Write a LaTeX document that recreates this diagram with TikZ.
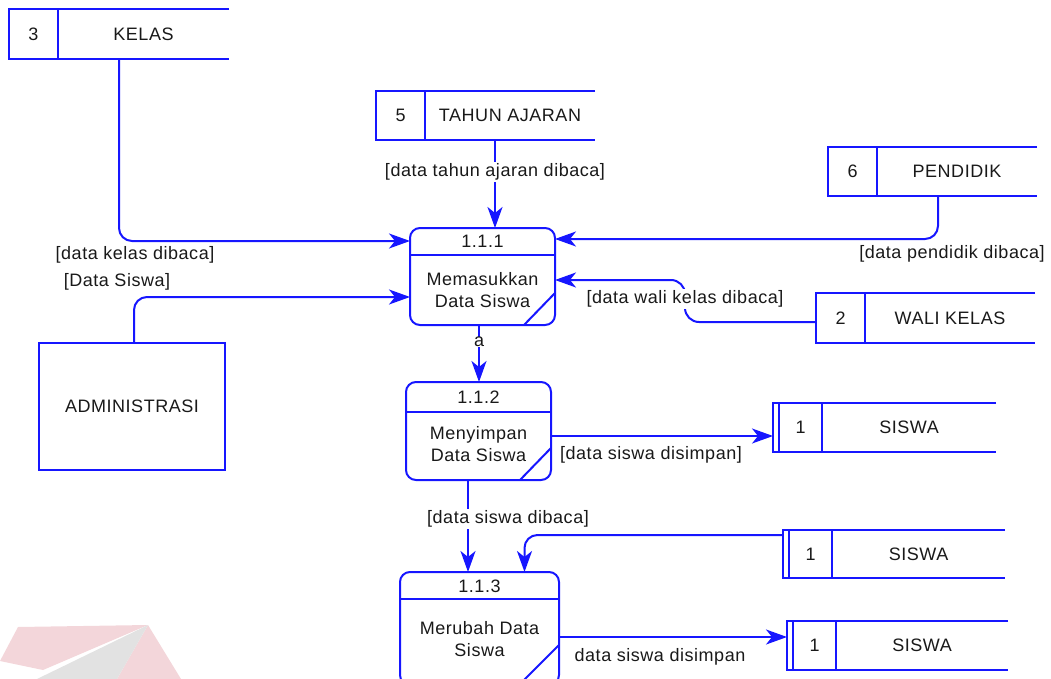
\documentclass[tikz,border=0pt]{standalone}
\usepackage{fontspec}
\setmainfont{Liberation Sans}[LetterSpace=3]
\usetikzlibrary{arrows.meta,calc}

\definecolor{dfdblue}{RGB}{22,22,255}
\definecolor{dfdtext}{RGB}{25,25,25}
\definecolor{wmpink}{RGB}{243,214,218}
\definecolor{wmgray}{RGB}{226,226,226}

% data store: open-ended box with a number cell
% #1 name, #2 x, #3 y (top left), #4 width, #5 height, #6 number, #7 title
\newcommand{\dfdstore}[7]{%
  \node[store, minimum width=#4pt, minimum height=#5pt] (#1) at (#2,#3) {};
  \draw[line] (#1.north east) -- (#1.north west) -- (#1.south west) -- (#1.south east);
  \draw[line] ([xshift=49pt]#1.north west) -- ([xshift=49pt]#1.south west);
  \node (#1-no) at ([xshift=24.5pt]#1.west) {#6};
  \node (#1-name) at ($([xshift=49pt]#1.west)!0.5!(#1.east)$) {#7};
}
% the same store drawn with a doubled left edge
\newcommand{\dfdstoreII}[7]{%
  \node[store, minimum width=#4pt, minimum height=#5pt] (#1) at (#2,#3) {};
  \draw[line] (#1.north east) -- (#1.north west) -- (#1.south west) -- (#1.south east);
  \draw[line, line width=1.3pt] ([xshift=6pt]#1.north west) -- ([xshift=6pt]#1.south west);
  \draw[line] ([xshift=49pt]#1.north west) -- ([xshift=49pt]#1.south west);
  \node (#1-no) at ([xshift=27.5pt]#1.west) {#6};
  \node (#1-name) at ($([xshift=49pt]#1.west)!0.5!(#1.east)$) {#7};
}

\begin{document}
\begin{tikzpicture}[x=1pt,y=-1pt,
  every node/.style={text=dfdtext, font=\fontsize{18}{22}\selectfont},
  line/.style={draw=dfdblue, line width=2pt},
  flow/.style={line, -{Stealth[length=21pt,width=15pt,inset=6pt]}},
  proc/.style={line, rounded corners=10pt, anchor=north west, inner sep=0pt, outer sep=0pt},
  store/.style={anchor=north west, inner sep=0pt, outer sep=0pt},
  lbl/.style={inner sep=1.5pt},
  mask/.style={lbl, fill=white},
]
\useasboundingbox (0,0) rectangle (1051,679);

% faint logo in the lower left corner
\fill[wmpink] (18,627) -- (148,625) -- (43,670) -- (0,661) -- cycle;
\fill[wmpink] (148,625) -- (181,679) -- (117,679) -- cycle;
\fill[wmgray] (148,625) -- (117,679) -- (37,679) -- cycle;

% data stores
\dfdstore{kelas}{9}{9}{220}{50}{3}{KELAS}
\dfdstore{tahun}{376}{91}{219}{49}{5}{TAHUN AJARAN}
\dfdstore{pendidik}{828}{147}{209}{49}{6}{PENDIDIK}
\dfdstore{wali}{816}{293}{219}{50}{2}{WALI KELAS}
\dfdstoreII{siswaA}{773}{403}{223}{49}{1}{SISWA}
\dfdstoreII{siswaB}{783}{530}{222}{48}{1}{SISWA}
\dfdstoreII{siswaC}{787}{621}{221}{49}{1}{SISWA}

% external entity
\node[line, anchor=north west, minimum width=186pt, minimum height=127pt,
      inner sep=0pt, outer sep=0pt] (admin) at (39,343) {ADMINISTRASI};

% processes
\node[proc, minimum width=145pt, minimum height=97pt] (p1) at (410,228) {};
\draw[line] ([yshift=-27pt]p1.north west) -- ([yshift=-27pt]p1.north east);
\draw[line] ([xshift=-31pt]p1.south east) -- ([yshift=32pt]p1.south east);
\node (p1-id) at ([yshift=-13.5pt]p1.north) {1.1.1};
\node[align=center] (p1-txt) at ([yshift=-62pt]p1.north) {Memasukkan\\Data Siswa};

\node[proc, minimum width=145pt, minimum height=98pt] (p2) at (406,382) {};
\draw[line] ([yshift=-30pt]p2.north west) -- ([yshift=-30pt]p2.north east);
\draw[line] ([xshift=-31pt]p2.south east) -- ([yshift=32pt]p2.south east);
\node (p2-id) at ([yshift=-15.5pt]p2.north) {1.1.2};
\node[align=center] (p2-txt) at ([yshift=-62pt]p2.north) {Menyimpan\\Data Siswa};

\node[proc, minimum width=159pt, minimum height=113pt] (p3) at (400,572) {};
\draw[line] ([yshift=-27pt]p3.north west) -- ([yshift=-27pt]p3.north east);
\draw[line] ([xshift=-40pt]p3.south east) -- ([yshift=40pt]p3.south east);
\node (p3-id) at ([yshift=-14.5pt]p3.north) {1.1.3};
\node[align=center] (p3-txt) at ([yshift=-67pt]p3.north) {Merubah Data\\Siswa};

% flows into 1.1.1
\draw[flow, rounded corners=13pt] ([xshift=110pt]kelas.south west) |- ([yshift=-13pt]p1.north west);
\node[lbl] (l-kelas) at (135,255) {[data kelas dibaca]};

\draw[flow] ([xshift=119pt]tahun.south west) -- ([xshift=119pt]tahun.south west |- p1.north);
\node[mask] (l-tahun) at (495,172) {[data tahun ajaran dibaca]};

\draw[flow, rounded corners=13pt] ([xshift=110pt]pendidik.south west) |- ([yshift=-11pt]p1.north east);
\node[lbl] (l-pendidik) at (952,254) {[data pendidik dibaca]};

\coordinate (wali-bend) at (685,280);
\draw[flow, rounded corners=14pt] ([yshift=-29pt]wali.north west) -| (wali-bend) -- ([yshift=-52pt]p1.north east);
\node[mask] (l-wali) at (685,299) {[data wali kelas dibaca]};

\draw[flow, rounded corners=13pt] ([xshift=95pt]admin.north west) |- ([yshift=-69pt]p1.north west);
\node[lbl] (l-admin) at (117,282) {[Data Siswa]};

% 1.1.1 to 1.1.2
\draw[flow] ([xshift=-3.5pt]p1.south) -- ([xshift=-3.5pt]p1.south |- p2.north);
\node[mask, inner sep=0.5pt] (l-a) at (479,342) {a};

% 1.1.2 out
\draw[flow] ([yshift=-54pt]p2.north east) -- ([yshift=-33pt]siswaA.north west);
\node[lbl] (l-simpan1) at (651,455) {[data siswa disimpan]};

\draw[flow] ([xshift=-10.5pt]p2.south) -- ([xshift=-10.5pt]p2.south |- p3.north);
\node[mask] (l-baca) at (508,519) {[data siswa dibaca]};

% 1.1.3
\draw[flow, rounded corners=13pt] ([yshift=-5pt]siswaB.north west) -| ([xshift=45pt]p3.north);
\draw[flow] ([yshift=-65pt]p3.north east) -- ([yshift=-16pt]siswaC.north west);
\node[lbl] (l-simpan2) at (660,657) {data siswa disimpan};
\end{tikzpicture}
\end{document}
